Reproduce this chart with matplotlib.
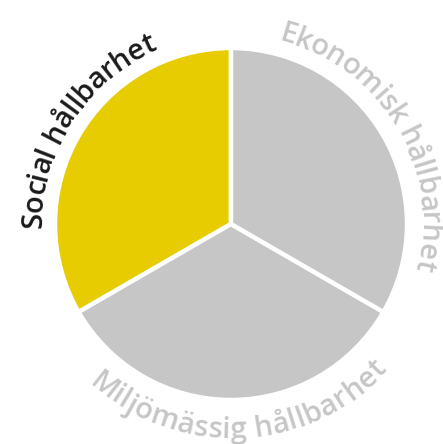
import numpy as np
import matplotlib
matplotlib.use("Agg")
import matplotlib.pyplot as plt

# Three equal dimensions of sustainability
labels = ['Social hållbarhet', 'Miljömässig hållbarhet', 'Ekonomisk hållbarhet']
values = [1, 1, 1]
colors = ['#E6CC00', '#C6C6C6', '#C6C6C6']
label_colors = ['#1a1a1a', '#C6C6C6', '#C6C6C6']
label_angles = [147, -87.5, 31]       # where each label is centred (degrees)
label_outside = [False, True, False]  # bottom label reads left to right

W, H = 443, 444
cx, cy, R = 231, 220, 176

fig = plt.figure(figsize=(W / 100, H / 100), dpi=100)
ax = fig.add_axes([0, 0, 1, 1])

ax.pie(values, colors=colors, startangle=90, counterclock=True,
       center=(cx, cy), radius=R, frame=True,
       wedgeprops=dict(edgecolor='white', linewidth=3.2))
ax.set_xlim(0, W)
ax.set_ylim(0, H)
ax.set_aspect('equal')
ax.axis('off')

renderer = fig.canvas.get_renderer()
font = dict(family=['Open Sans', 'DejaVu Sans'], fontweight='semibold', fontsize=21)


def char_width(ch):
    t = ax.text(0, 0, ch, **font)
    w = t.get_window_extent(renderer).width
    t.remove()
    return w


def curved_text(s, mid_angle, r_base, color, bottom):
    widths = [char_width(c) for c in s]
    # use the middle of the letters for the spacing
    r_mid = r_base - 8 if bottom else r_base + 8
    total = sum(widths) / r_mid
    sign = 1 if bottom else -1
    a0 = np.radians(mid_angle) - sign * total / 2
    pos = 0.0
    for ch, w in zip(s, widths):
        a = a0 + sign * (pos + w / 2) / r_mid
        pos += w
        if ch == ' ':
            continue
        x = cx + r_base * np.cos(a)
        y = cy + r_base * np.sin(a)
        rot = np.degrees(a) + (90 if bottom else -90)
        ax.text(x, y, ch, color=color, rotation=rot, rotation_mode='anchor',
                ha='center', va='baseline', **font)


for lab, ang, col, out in zip(labels, label_angles, label_colors, label_outside):
    curved_text(lab, ang, 214 if out else 189.5, col, out)

fig.savefig('out.png', dpi=100)
